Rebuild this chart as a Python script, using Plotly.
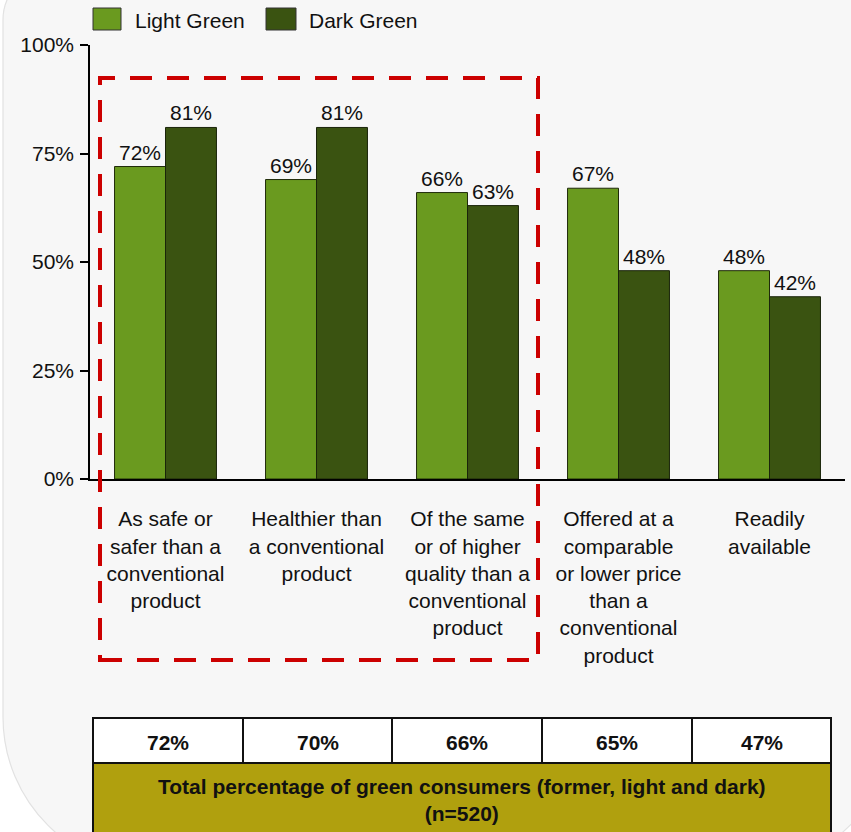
import plotly.graph_objects as go

categories = [
    "As safe or<br>safer than a<br>conventional<br>product",
    "Healthier than<br>a conventional<br>product",
    "Of the same<br>or of higher<br>quality than a<br>conventional<br>product",
    "Offered at a<br>comparable<br>or lower price<br>than a<br>conventional<br>product",
    "Readily<br>available",
]
light_green = [72, 69, 66, 67, 48]
dark_green = [81, 81, 63, 48, 42]
totals = [72, 70, 66, 65, 47]
y_ticks = [0, 25, 50, 75, 100]
series_names = ["Light Green", "Dark Green"]
table_caption = "Total percentage of green consumers (former, light and dark)<br>(n=520)"

W, H = 851, 832
ML, MR, MT, MB = 90, 6, 45, 353
PW, PH = W - ML - MR, H - MT - MB
FONT = "Liberation Sans, Arial, sans-serif"
C_LIGHT = "#6A9A1F"
C_DARK = "#3A5311"
C_OLIVE = "#B0A00E"


def px(x):
    return (x - ML) / PW


def py(y):
    return (H - MB - y) / PH


fig = go.Figure()
fig.add_trace(go.Bar(
    x=categories, y=light_green, name=series_names[0],
    marker=dict(color=C_LIGHT, line=dict(color="#1f2a0a", width=1)),
    text=[f"{v}%" for v in light_green], textposition="outside",
    textfont=dict(size=21, color="#111111", family=FONT),
    constraintext="none", cliponaxis=False, showlegend=False,
))
fig.add_trace(go.Bar(
    x=categories, y=dark_green, name=series_names[1],
    marker=dict(color=C_DARK, line=dict(color="#1a240a", width=1)),
    text=[f"{v}%" for v in dark_green], textposition="outside",
    textfont=dict(size=21, color="#111111", family=FONT),
    constraintext="none", cliponaxis=False, showlegend=False,
))

shapes = []
annotations = []

# background panel (rounded)
k = 0.5523


def P(x, y):
    return f"{px(x):.5f},{py(y):.5f}"


ytop, rt = -30, 50
xr, yb, rb = 895, 870, 153
path = (
    f"M{P(3, ytop + rt)} "
    f"C{P(3, ytop + rt - rt * k)} {P(3 + rt - rt * k, ytop)} {P(3 + rt, ytop)} "
    f"L{P(xr, ytop)} "
    f"L{P(xr, yb - rb)} "
    f"C{P(xr, yb - rb + rb * k)} {P(xr - rb + rb * k, yb)} {P(xr - rb, yb)} "
    f"L{P(3 + rb, yb)} "
    f"C{P(3 + rb - rb * k, yb)} {P(3, yb - rb + rb * k)} {P(3, yb - rb)} Z"
)
shapes.append(dict(type="path", xref="paper", yref="paper", path=path,
                   fillcolor="#F7F7F7", line=dict(color="#E2E2E2", width=1.2),
                   layer="below"))

# legend
leg = [(93, 121, 133, C_LIGHT, series_names[0]), (266, 296, 307, C_DARK, series_names[1])]
for x0, x1, tx, col, name in leg:
    shapes.append(dict(type="rect", xref="paper", yref="paper",
                       x0=px(x0), x1=px(x1), y0=py(30), y1=py(8),
                       fillcolor=col, line=dict(color="#333333", width=1)))
    annotations.append(dict(xref="paper", yref="paper", x=px(tx), y=py(20),
                            xanchor="left", yanchor="middle", showarrow=False,
                            text=name, font=dict(size=21, color="#111111", family=FONT)))

# red dashed highlight
shapes.append(dict(type="rect", xref="paper", yref="paper",
                   x0=px(100), x1=px(538), y0=py(660), y1=py(78),
                   line=dict(color="#CC0000", width=4, dash="22px,15px"),
                   fillcolor="rgba(0,0,0,0)"))

# table
col_edges = [93, 243, 392, 542, 692, 831]
row1_top, row1_bot, row2_bot = 718, 763, 870
shapes.append(dict(type="rect", xref="paper", yref="paper",
                   x0=px(col_edges[0]), x1=px(col_edges[-1]), y0=py(row2_bot), y1=py(row1_bot),
                   fillcolor=C_OLIVE, line=dict(color="#111111", width=2)))
for i in range(len(totals)):
    shapes.append(dict(type="rect", xref="paper", yref="paper",
                       x0=px(col_edges[i]), x1=px(col_edges[i + 1]),
                       y0=py(row1_bot), y1=py(row1_top),
                       fillcolor="#FFFFFF", line=dict(color="#111111", width=2)))
    annotations.append(dict(xref="paper", yref="paper",
                            x=px((col_edges[i] + col_edges[i + 1]) / 2), y=py(742),
                            xanchor="center", yanchor="middle", showarrow=False,
                            text=f"<b>{totals[i]}%</b>",
                            font=dict(size=21, color="#111111", family=FONT)))
annotations.append(dict(xref="paper", yref="paper",
                        x=px((col_edges[0] + col_edges[-1]) / 2), y=py(800),
                        xanchor="center", yanchor="middle", showarrow=False,
                        text=f"<b>{table_caption}</b>",
                        font=dict(size=21, color="#111111", family=FONT)))

fig.update_layout(
    width=W, height=H,
    margin=dict(l=ML, r=MR, t=MT, b=MB, pad=0),
    paper_bgcolor="#FFFFFF", plot_bgcolor="rgba(0,0,0,0)",
    barmode="group", bargap=0.325, bargroupgap=0,
    showlegend=False,
    font=dict(family=FONT, size=21, color="#111111"),
    shapes=shapes, annotations=annotations,
)
fig.update_xaxes(
    showline=True, linecolor="#000000", linewidth=2, ticks="",
    showgrid=False, zeroline=False, tickangle=0,
    tickfont=dict(size=21, family=FONT, color="#111111"),
    ticklabelstandoff=20,
)
fig.update_yaxes(
    range=[0, 100], tickvals=y_ticks, ticktext=[f"{v}%" for v in y_ticks],
    showline=True, linecolor="#000000", linewidth=1.5,
    ticks="outside", ticklen=8, tickwidth=1.5, tickcolor="#000000",
    showgrid=False, zeroline=False, ticklabelstandoff=2,
    tickfont=dict(size=21, family=FONT, color="#111111"),
)

fig.write_html(
    "out.html",
    config={"displayModeBar": False},
    post_script="document.body.style.margin='0';document.body.style.overflow='hidden';",
)
